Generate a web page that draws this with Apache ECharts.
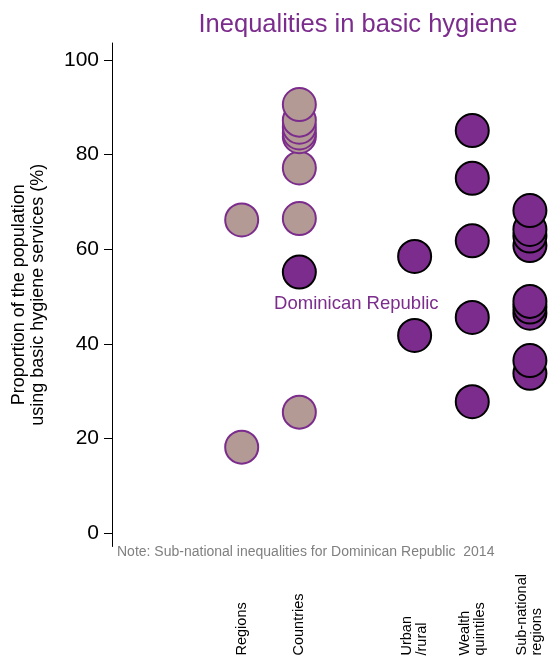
<!DOCTYPE html>
<html>
<head>
<meta charset="utf-8">
<script src="https://cdn.jsdelivr.net/npm/echarts@6/dist/echarts.min.js"></script>
<style>html,body{margin:0;padding:0;background:#fff;}#c{width:554px;height:656px;}</style>
</head>
<body>
<div id="c"></div>
<script>
// ---- data ----
const categories = ['Regions', 'Countries', '', 'Urban\n/rural', 'Wealth\nquintiles', 'Sub-national\nregions'];
const labelPositions = [0, 1, 3, 4, 5];
const regions = [18.2, 66.2];
const countries = [25.6, 66.5, 77.2, 83.8, 84.6, 85.8, 87.3, 90.6];
const dominicanRepublic = 55.2;
const urbanRural = [41.8, 58.5];
const wealthQuintiles = [27.8, 45.6, 61.8, 75.0, 85.1];
const subnational = [33.8, 36.5, 46.5, 47.8, 49.0, 60.8, 62.8, 64.2, 68.2];
const yTicks = [0, 20, 40, 60, 80, 100];
const titleText = 'Inequalities in basic hygiene';
const yName = 'Proportion of the population\nusing basic hygiene services (%)';
const noteText = 'Note: Sub-national inequalities for Dominican Republic  2014';
const highlightName = 'Dominican Republic';

// ---- styles ----
const PURPLE = '#7B2C8C';
const ROSY = '#B39A95';
const FONT = 'Liberation Sans, Arial, sans-serif';
const SIZE = 33;

function pts(idx, arr) { return arr.map(v => [idx, v]); }

const chart = echarts.init(document.getElementById('c'), null, {renderer: 'canvas'});
chart.setOption({
  animation: false,
  title: {
    text: titleText, left: 353, top: 7, textAlign: 'center',
    textStyle: {color: PURPLE, fontSize: 25.5, fontWeight: 'normal', fontFamily: FONT}
  },
  grid: {left: 112, right: 0, top: 43, bottom: 109.5, containLabel: false, outerBoundsMode: 'none'},
  xAxis: {
    type: 'value', min: -2.25, max: 5.418,
    axisLine: {show: false}, axisTick: {show: false}, splitLine: {show: false},
    axisLabel: {
      customValues: labelPositions,
      formatter: v => categories[Math.round(v)],
      rotate: 90, align: 'left', verticalAlign: 'middle', margin: 109,
      color: '#000', fontSize: 14.5, fontFamily: FONT, lineHeight: 15
    }
  },
  yAxis: {
    type: 'value', min: -2.79, max: 103.6,
    name: yName, nameLocation: 'middle', nameGap: 64, nameRotate: 90,
    nameTextStyle: {color: '#000', fontSize: 18, fontFamily: FONT, lineHeight: 19},
    axisLine: {show: true, onZero: false, lineStyle: {color: '#000', width: 1}},
    axisTick: {show: true, customValues: yTicks, length: 8, lineStyle: {color: '#000'}},
    axisLabel: {customValues: yTicks, color: '#000', fontSize: 21, fontFamily: FONT, margin: 13},
    splitLine: {show: false}
  },
  graphic: [{
    type: 'text', left: 117, top: 545,
    style: {text: noteText, fill: '#808080', fontSize: 14, fontFamily: FONT}
  }],
  series: [
    {type: 'scatter', symbolSize: SIZE, data: pts(0, regions),
     itemStyle: {color: ROSY, borderColor: PURPLE, borderWidth: 2, opacity: 1}},
    {type: 'scatter', symbolSize: SIZE, data: pts(1, countries),
     itemStyle: {color: ROSY, borderColor: PURPLE, borderWidth: 2, opacity: 1}},
    {type: 'scatter', symbolSize: SIZE, data: [[1, dominicanRepublic]],
     itemStyle: {color: PURPLE, borderColor: '#000', borderWidth: 2, opacity: 1},
     label: {show: true, formatter: highlightName, position: 'bottom', distance: 5, offset: [57, 0],
             color: PURPLE, fontSize: 18.5, fontFamily: FONT}},
    {type: 'scatter', symbolSize: SIZE, data: pts(3, urbanRural),
     itemStyle: {color: PURPLE, borderColor: '#000', borderWidth: 2, opacity: 1}},
    {type: 'scatter', symbolSize: SIZE, data: pts(4, wealthQuintiles),
     itemStyle: {color: PURPLE, borderColor: '#000', borderWidth: 2, opacity: 1}},
    {type: 'scatter', symbolSize: SIZE, data: pts(5, subnational),
     itemStyle: {color: PURPLE, borderColor: '#000', borderWidth: 2, opacity: 1}}
  ]
});
</script>
</body>
</html>
